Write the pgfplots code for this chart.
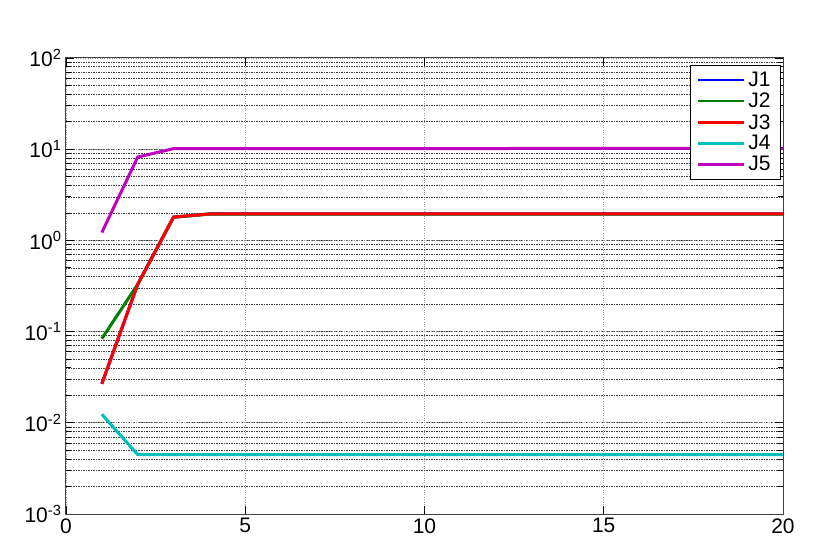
\documentclass[border=0pt]{standalone}
\usepackage{pgfplots}
\pgfplotsset{compat=1.18}
\usepackage{fontspec}
\setmainfont{Liberation Sans}
\definecolor{mblue}{rgb}{0,0,1}
\definecolor{mgreen}{rgb}{0,0.5,0}
\definecolor{mred}{rgb}{1,0,0}
\definecolor{mcyan}{rgb}{0,0.75,0.75}
\definecolor{mmagenta}{rgb}{0.75,0,0.75}
\begin{document}
\begin{tikzpicture}
\path[use as bounding box] (-66pt,-40pt) rectangle (765pt,514pt);
\begin{semilogyaxis}[
    at={(0,0)}, anchor=south west,
    scale only axis, width=717pt, height=456pt,
    xmin=0, xmax=20, ymin=1e-3, ymax=1e2,
    xtick={0,5,10,15,20}, xticklabels={0,5,10,15,20},
    ytick={1e-3,1e-2,1e-1,1,1e1,1e2},
    yticklabels={10\textsuperscript{-3},10\textsuperscript{-2},10\textsuperscript{-1},10\textsuperscript{0},10\textsuperscript{1},10\textsuperscript{2}},
    tick align=inside,
    major tick length=8pt, minor tick length=5pt,
    xmajorgrids, ymajorgrids, yminorgrids,
    major grid style={dotted, black!40, line width=0.8pt},
    minor grid style={dash pattern=on 1.5pt off 1pt, black!75, line width=0.7pt},
    axis line style={black!75, line width=1pt},
    tick style={black, line width=0.8pt},
    ticklabel style={font=\fontsize{21}{22}\selectfont},
    yticklabel style={xshift=-1pt},
    xticklabel style={yshift=-1pt},
    legend style={at={(0.997,0.985)}, anchor=north east, draw=black, line width=0.8pt,
        font=\fontsize{21}{21}\selectfont, row sep=1pt, inner xsep=7pt, inner ysep=5pt,
        nodes={inner xsep=3pt}},
    legend cell align=left,
    legend image code/.code={\draw[#1, line width=2.2pt] (0pt,0pt) -- (46pt,0pt);},
    every axis plot/.append style={line width=3pt},
]
\addplot[mblue] coordinates {(1,0.0268) (2,0.33) (3,1.80) (4,1.95) (20,1.95)};
\addlegendentry{J1}
\addplot[mgreen] coordinates {(1,0.0836) (2,0.33) (3,1.80) (4,1.94) (20,1.94)};
\addlegendentry{J2}
\addplot[mred] coordinates {(1,0.0268) (2,0.33) (3,1.80) (4,1.95) (20,1.95)};
\addlegendentry{J3}
\addplot[mcyan] coordinates {(1,0.0124) (2,0.00447) (3,0.00447) (20,0.00447)};
\addlegendentry{J4}
\addplot[mmagenta] coordinates {(1,1.22) (2,8.2) (3,10.15) (20,10.2)};
\addlegendentry{J5}
\end{semilogyaxis}
\end{tikzpicture}
\end{document}
